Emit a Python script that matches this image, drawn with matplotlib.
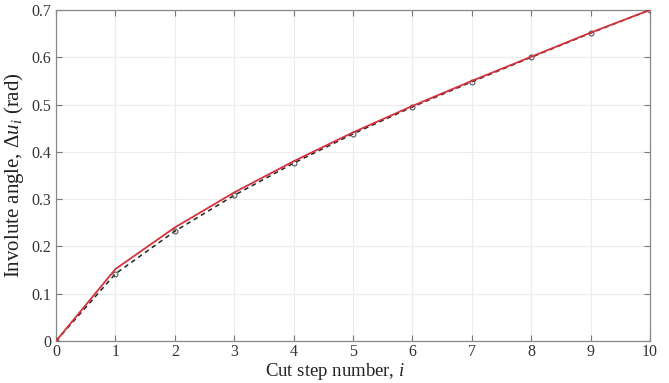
import matplotlib
matplotlib.use("Agg")
import matplotlib.pyplot as plt

steps = [0, 1, 2, 3, 4, 5, 6, 7, 8, 9, 10]
angle_ref = [0.0, 0.142, 0.232, 0.308, 0.376, 0.438, 0.495, 0.548, 0.600, 0.651, 0.700]
angle_fit = [0.0, 0.152, 0.240, 0.314, 0.380, 0.441, 0.497, 0.550, 0.601, 0.652, 0.700]
xticks = [0, 1, 2, 3, 4, 5, 6, 7, 8, 9, 10]
yticks = [0, 0.1, 0.2, 0.3, 0.4, 0.5, 0.6, 0.7]
yticklabels = ["0", "0.1", "0.2", "0.3", "0.4", "0.5", "0.6", "0.7"]

plt.rcParams['font.family'] = ['Liberation Serif', 'DejaVu Serif']
plt.rcParams['mathtext.fontset'] = 'custom'
plt.rcParams['mathtext.rm'] = 'Liberation Serif'
plt.rcParams['mathtext.it'] = 'Liberation Serif:italic'

fig = plt.figure(figsize=(6.69, 3.83), dpi=100)
ax = fig.add_axes([0.0837, 0.1097, 0.8879, 0.8643])

ax.plot(steps, angle_ref, color='#222222', linestyle=(0, (3, 2.5)), linewidth=1.1,
        marker='o', markersize=3.5, markerfacecolor='none', markeredgecolor='#555555',
        markeredgewidth=0.8, zorder=3)
ax.plot(steps, angle_fit, color='#d6323c', linewidth=1.3, zorder=4)

ax.set_xlim(0, 10)
ax.set_ylim(0, 0.7)
ax.set_xticks(xticks)
ax.set_yticks(yticks)
ax.set_yticklabels(yticklabels)
ax.grid(True, color='#ececec', linewidth=0.8)
ax.set_axisbelow(True)
ax.tick_params(direction='in', top=True, right=True, length=4, width=0.8,
               colors='#777777', labelcolor='#333333', labelsize=11.5)
ax.tick_params(axis='x', pad=2.5)
for s in ax.spines.values():
    s.set_color('#888888')
    s.set_linewidth(0.9)

ax.set_xlabel(r'Cut step number, $i$', fontsize=13.5, color='#222222', labelpad=0)
ax.xaxis.set_label_coords(0.47, -0.061)
ax.xaxis.label.set_va('top')
ax.set_ylabel(r'Involute angle, $\Delta u_i$ (rad)', fontsize=15, color='#222222', labelpad=4)

fig.savefig('out.png', dpi=100)
